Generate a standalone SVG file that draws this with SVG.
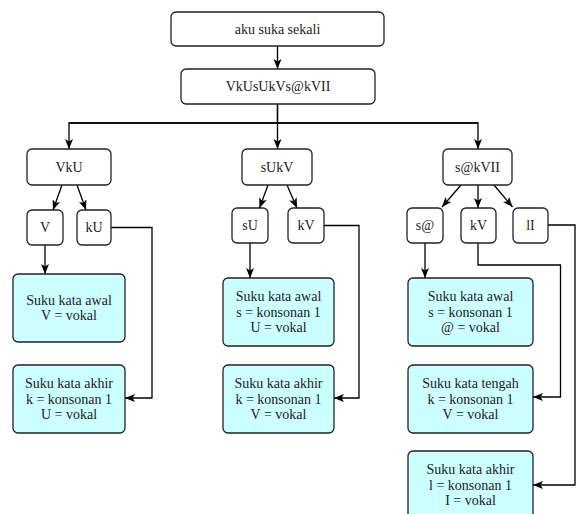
<svg xmlns="http://www.w3.org/2000/svg" width="576" height="514" viewBox="0 0 576 514">
<style>
.box{fill:#ffffff;stroke:#222;stroke-width:1.3}
.blue{fill:#ccffff;stroke:#222;stroke-width:1.3}
.t{font-family:"Liberation Serif","Times New Roman",serif;font-size:14px;fill:#222;text-anchor:middle}
.e{fill:none;stroke:#000;stroke-width:1.3;marker-end:url(#arr)}
.l{fill:none;stroke:#000;stroke-width:1.3}
</style>
<defs>
<marker id="arr" markerUnits="userSpaceOnUse" viewBox="0 0 10 8" markerWidth="10" markerHeight="8" refX="10" refY="4" orient="auto">
<path d="M0,0 L10,4 L0,8 L2.5,4 Z" fill="#000"/>
</marker>
</defs>
<rect width="576" height="514" fill="#ffffff"/>
<g id="connectors">
<path class="e" d="M277.5,46 L277.5,69"/>
<path class="l" d="M69,123 L478,123"/>
<path class="e" d="M277.5,104 L277.5,123 L69,123 L69,149"/>
<path class="e" d="M277.5,104 L277.5,149"/>
<path class="e" d="M277.5,123 L478,123 L478,149"/>
<path class="e" d="M62,185 L53,210"/>
<path class="e" d="M77,185 L86,210"/>
<path class="e" d="M45,245 L45,274"/>
<path class="e" d="M111,227.5 L152,227.5 L152,398 L125,398"/>
<path class="e" d="M268,185 L259.5,208"/>
<path class="e" d="M287,185 L297,208"/>
<path class="e" d="M250,243 L250,278"/>
<path class="e" d="M324,225.5 L359,225.5 L359,398 L334,398"/>
<path class="e" d="M461,185 L442,207"/>
<path class="e" d="M478,185 L478,208"/>
<path class="e" d="M494,185 L512.5,207"/>
<path class="e" d="M425,243 L425,278"/>
<path class="e" d="M478,243 L478,265 L560.5,265 L560.5,397 L533,397"/>
<path class="e" d="M548,225 L575,225 L575,485 L533,485"/>
</g>
<g id="n-root"><rect class="box" x="171" y="12" width="213" height="34" rx="5"/><text class="t" x="277.5" y="34">aku suka sekali</text></g>
<g id="n-code"><rect class="box" x="181" y="69" width="194" height="35" rx="5"/><text class="t" x="278" y="91">VkUsUkVs@kVII</text></g>
<g id="n-vku"><rect class="box" x="27" y="149" width="84" height="36" rx="5"/><text class="t" x="69" y="172">VkU</text></g>
<g id="n-sukv"><rect class="box" x="242" y="149" width="70" height="36" rx="5"/><text class="t" x="277" y="172">sUkV</text></g>
<g id="n-sakvii"><rect class="box" x="443" y="149" width="69" height="36" rx="5"/><text class="t" x="477.5" y="172">s@kVII</text></g>
<g id="n-v"><rect class="box" x="27" y="210" width="36" height="35" rx="5"/><text class="t" x="45" y="232">V</text></g>
<g id="n-ku"><rect class="box" x="77" y="210" width="34" height="35" rx="5"/><text class="t" x="94" y="232">kU</text></g>
<g id="n-su"><rect class="box" x="232" y="208" width="36" height="35" rx="5"/><text class="t" x="250" y="230">sU</text></g>
<g id="n-kv1"><rect class="box" x="288" y="208" width="36" height="35" rx="5"/><text class="t" x="306" y="230">kV</text></g>
<g id="n-sa"><rect class="box" x="407" y="208" width="36" height="35" rx="5"/><text class="t" x="425" y="230">s@</text></g>
<g id="n-kv2"><rect class="box" x="461" y="208" width="35" height="35" rx="5"/><text class="t" x="478.5" y="230">kV</text></g>
<g id="n-ii"><rect class="box" x="513" y="208" width="35" height="35" rx="5"/><text class="t" x="530.5" y="230">lI</text></g>
<g id="n-b1"><rect class="blue" x="13" y="274" width="112" height="68" rx="5"/><text class="t" x="69" y="304.8">Suku kata awal</text><text class="t" x="69" y="320.3">V = vokal</text></g>
<g id="n-b2"><rect class="blue" x="13" y="365" width="112" height="68" rx="5"/><text class="t" x="69" y="388">Suku kata akhir</text><text class="t" x="69" y="403.5">k = konsonan 1</text><text class="t" x="69" y="419">U = vokal</text></g>
<g id="n-b3"><rect class="blue" x="223" y="278" width="111" height="68" rx="5"/><text class="t" x="278.5" y="301">Suku kata awal</text><text class="t" x="278.5" y="316.5">s = konsonan 1</text><text class="t" x="278.5" y="332">U = vokal</text></g>
<g id="n-b4"><rect class="blue" x="223" y="365" width="111" height="68" rx="5"/><text class="t" x="278.5" y="388">Suku kata akhir</text><text class="t" x="278.5" y="403.5">k = konsonan 1</text><text class="t" x="278.5" y="419">V = vokal</text></g>
<g id="n-b5"><rect class="blue" x="408" y="278" width="125" height="68" rx="5"/><text class="t" x="470.5" y="301">Suku kata awal</text><text class="t" x="470.5" y="316.5">s = konsonan 1</text><text class="t" x="470.5" y="332">@ = vokal</text></g>
<g id="n-b6"><rect class="blue" x="408" y="365" width="125" height="68" rx="5"/><text class="t" x="470.5" y="388">Suku kata tengah</text><text class="t" x="470.5" y="403.5">k = konsonan 1</text><text class="t" x="470.5" y="419">V = vokal</text></g>
<g id="n-b7"><rect class="blue" x="408" y="451" width="125" height="68" rx="5"/><text class="t" x="470.5" y="474">Suku kata akhir</text><text class="t" x="470.5" y="489.5">l = konsonan 1</text><text class="t" x="470.5" y="505">I = vokal</text></g>
</svg>
